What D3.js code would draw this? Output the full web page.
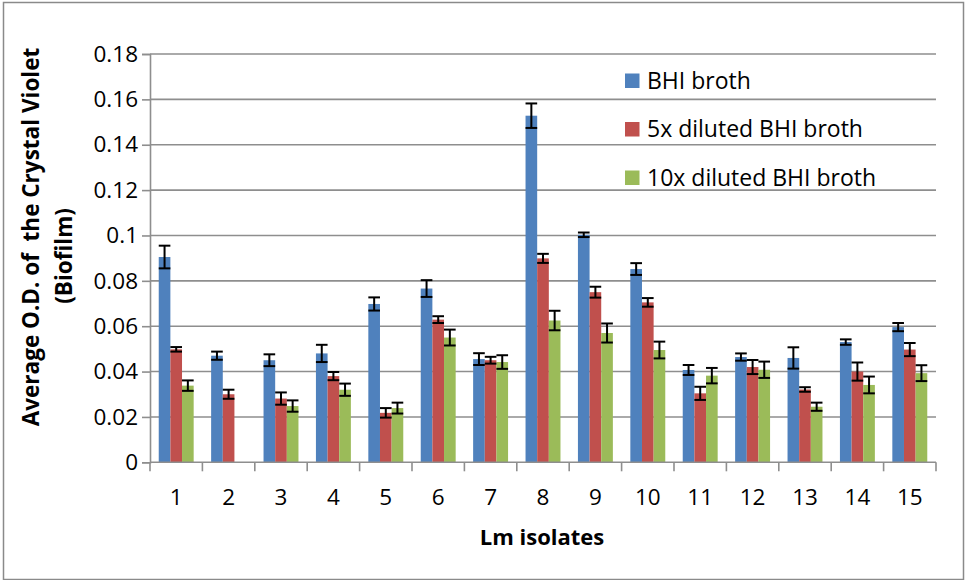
<!DOCTYPE html>
<html><head><meta charset="utf-8">
<script src="https://cdn.jsdelivr.net/npm/d3@7"></script>
<style>
html,body{margin:0;padding:0;background:#fff;}
text{font-family:"Open Sans",sans-serif;fill:#000;}
</style></head>
<body>
<svg id="chart" width="965" height="580"></svg>
<script>
const categories = ["1","2","3","4","5","6","7","8","9","10","11","12","13","14","15"];
const seriesNames = ["BHI broth","5x diluted BHI broth","10x diluted BHI broth"];
const seriesColors = ["#4F81BD","#C0504D","#9BBB59"];
const bhi      = [0.0905,0.047,0.045,0.048,0.0698,0.0766,0.0455,0.1528,0.1003,0.0852,0.0407,0.0464,0.046,0.053,0.0596];
const bhiErr   = [0.005,0.0018,0.0026,0.0038,0.0029,0.0037,0.0026,0.0054,0.001,0.0026,0.0022,0.0016,0.0047,0.0012,0.0018];
const dil5     = [0.0498,0.030,0.0281,0.038,0.0218,0.0629,0.045,0.0899,0.075,0.0705,0.0304,0.042,0.0321,0.040,0.0497];
const dil5Err  = [0.001,0.002,0.0027,0.0018,0.0021,0.0015,0.0015,0.002,0.0024,0.0019,0.0029,0.0031,0.001,0.004,0.0029];
const dil10    = [0.0338,null,0.0248,0.032,0.0239,0.055,0.0442,0.0625,0.057,0.0495,0.0382,0.0408,0.0245,0.0341,0.0393];
const dil10Err = [0.0023,null,0.0025,0.0027,0.0024,0.0035,0.003,0.0043,0.0042,0.0037,0.0034,0.0036,0.0018,0.0037,0.0035];
const yTicks = [0,0.02,0.04,0.06,0.08,0.1,0.12,0.14,0.16,0.18];
const yTitle = ["Average O.D. of  the Crystal Violet","(Biofilm)"];
const xTitle = "Lm isolates";

const values = [bhi, dil5, dil10];
const errors = [bhiErr, dil5Err, dil10Err];

const svg = d3.select("#chart");
const L = 150, R = 936, T = 54, B = 462.3;
const gridColor = "#8e8e8e";

// outer border
svg.append("rect").attr("x",3.5).attr("y",2.5).attr("width",960).attr("height",577)
  .attr("fill","none").attr("stroke","#8a8a8a").attr("stroke-width",1.5);

const x = d3.scaleBand().domain(categories).range([L,R]).paddingInner(0).paddingOuter(0);
const y = d3.scaleLinear().domain([0,0.18]).range([B,T]);
const bw = x.bandwidth()/4.5;
const xs = d3.scaleBand().domain([0,1,2]).range([0.75*bw, 0.75*bw + 3*bw]);

// gridlines
svg.append("g").selectAll("line").data(yTicks.filter(d=>d>0)).join("line")
  .attr("x1",L).attr("x2",R).attr("y1",d=>y(d)).attr("y2",d=>y(d))
  .attr("stroke",gridColor).attr("stroke-width",1.6);

// y axis
const yAxis = d3.axisLeft(y).tickValues(yTicks).tickSize(8).tickPadding(4)
  .tickFormat(d=>d===0?"0":String(+d.toFixed(2)));
const gy = svg.append("g").attr("transform",`translate(${L},0)`).call(yAxis);
gy.select(".domain").attr("stroke",gridColor).attr("stroke-width",1.6);
gy.selectAll(".tick line").attr("stroke",gridColor).attr("stroke-width",1.6);
gy.selectAll("text").style("font-size","22.5px").style("font-family","'Open Sans',sans-serif").attr("fill","#000");

// bars
values.forEach((vals,si)=>{
  svg.append("g").selectAll("rect").data(categories.map((c,i)=>({c,v:vals[i]})).filter(d=>d.v!=null))
    .join("rect")
    .attr("x",d=>x(d.c)+xs(si)).attr("width",xs.bandwidth())
    .attr("y",d=>y(d.v)).attr("height",d=>y(0)-y(d.v))
    .attr("fill",seriesColors[si]);
});

// x axis
const gx = svg.append("g").attr("transform",`translate(0,${B})`);
gx.append("line").attr("x1",L).attr("x2",R).attr("stroke",gridColor).attr("stroke-width",1.6);
const bounds = categories.map(c=>x(c)).concat([R]);
gx.selectAll("line.tk").data(bounds).join("line").attr("class","tk")
  .attr("x1",d=>d).attr("x2",d=>d).attr("y1",0).attr("y2",9)
  .attr("stroke",gridColor).attr("stroke-width",1.6);
gx.selectAll("text").data(categories).join("text")
  .attr("x",d=>x(d)+x.bandwidth()/2).attr("y",43)
  .attr("text-anchor","middle").style("font-size","22.5px").text(d=>d);

// error bars
values.forEach((vals,si)=>{
  const errs = errors[si];
  const g = svg.append("g").attr("stroke","#000").attr("stroke-width",2);
  categories.forEach((c,i)=>{
    if(vals[i]==null) return;
    const cx = x(c)+xs(si)+xs.bandwidth()/2;
    const hw = xs.bandwidth()/2;
    const y1 = y(vals[i]+errs[i]), y2 = y(vals[i]-errs[i]);
    g.append("line").attr("x1",cx).attr("x2",cx).attr("y1",y1).attr("y2",y2);
    g.append("line").attr("x1",cx-hw).attr("x2",cx+hw).attr("y1",y1).attr("y2",y1);
    g.append("line").attr("x1",cx-hw).attr("x2",cx+hw).attr("y1",y2).attr("y2",y2);
  });
});

// legend
const lg = svg.append("g");
seriesNames.forEach((n,i)=>{
  const yy = 73.5 + i*48.5;
  lg.append("rect").attr("x",625).attr("y",yy).attr("width",14.5).attr("height",14.5).attr("fill",seriesColors[i]);
  lg.append("text").attr("x",647).attr("y",yy+15).style("font-size","23px").text(n);
});

// axis titles
svg.append("text").attr("x",542).attr("y",545).attr("text-anchor","middle")
  .style("font-size","22px").style("font-weight","bold").text(xTitle);
svg.append("text").attr("transform","translate(39,237) rotate(-90)").attr("text-anchor","middle")
  .style("font-size","22.5px").style("font-weight","bold").style("white-space","pre")
  .attr("xml:space","preserve").text(yTitle[0]);
svg.append("text").attr("transform","translate(72,256) rotate(-90)").attr("text-anchor","middle")
  .style("font-size","22.5px").style("font-weight","bold").text(yTitle[1]);
</script>
</body></html>
